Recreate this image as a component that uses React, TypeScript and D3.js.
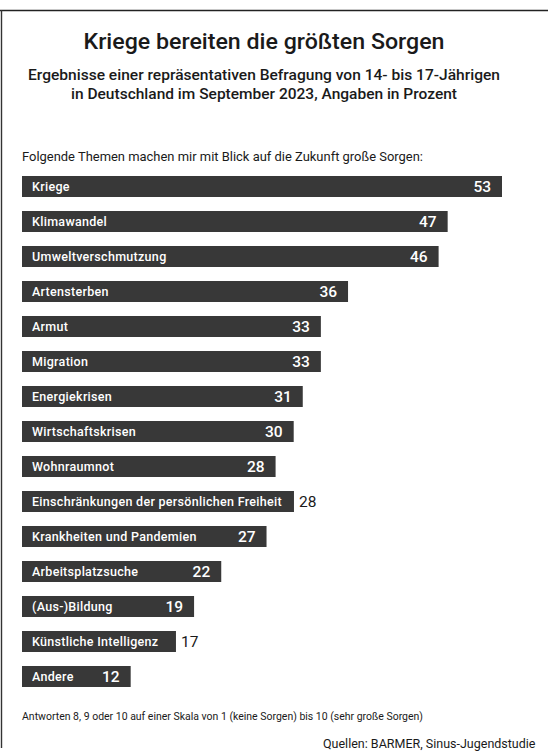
import * as d3 from "d3";
import { useRef, useEffect } from "react";

const topics = [
  "Kriege",
  "Klimawandel",
  "Umweltverschmutzung",
  "Artensterben",
  "Armut",
  "Migration",
  "Energiekrisen",
  "Wirtschaftskrisen",
  "Wohnraumnot",
  "Einschränkungen der persönlichen Freiheit",
  "Krankheiten und Pandemien",
  "Arbeitsplatzsuche",
  "(Aus-)Bildung",
  "Künstliche Intelligenz",
  "Andere",
];
const percents = [53, 47, 46, 36, 33, 33, 31, 30, 28, 28, 27, 22, 19, 17, 12];

const title = "Kriege bereiten die größten Sorgen";
const subtitleLines = [
  "Ergebnisse einer repräsentativen Befragung von 14- bis 17-Jährigen",
  "in Deutschland im September 2023, Angaben in Prozent",
];
const question = "Folgende Themen machen mir mit Blick auf die Zukunft große Sorgen:";
const footnote = "Antworten 8, 9 oder 10 auf einer Skala von 1 (keine Sorgen) bis 10 (sehr große Sorgen)";
const source = "Quellen: BARMER, Sinus-Jugendstudie";

export default function App() {
  const ref = useRef<SVGSVGElement>(null);

  useEffect(() => {
    const width = 548;
    const height = 752;
    const font = "Roboto, 'Noto Sans', sans-serif";
    const barColor = "#383838";

    const svg = d3.select(ref.current);
    svg.selectAll("*").remove();
    svg.attr("width", width).attr("height", height);

    svg.append("rect").attr("width", width).attr("height", height).attr("fill", "#fff");

    // frame
    svg.append("line")
      .attr("x1", 0).attr("x2", width).attr("y1", 10.5).attr("y2", 10.5)
      .attr("stroke", "#222").attr("stroke-width", 1.6);
    svg.append("line")
      .attr("x1", 1.5).attr("x2", 1.5).attr("y1", 10).attr("y2", 748)
      .attr("stroke", "#333").attr("stroke-width", 1.4);

    // headings
    svg.append("text")
      .attr("x", 264).attr("y", 49)
      .attr("text-anchor", "middle")
      .attr("textLength", 361).attr("lengthAdjust", "spacingAndGlyphs")
      .style("font-family", font).style("font-weight", 500).style("font-size", "22px")
      .attr("fill", "#1a1a1a")
      .text(title);

    svg.selectAll("text.sub")
      .data(subtitleLines)
      .enter()
      .append("text")
      .attr("class", "sub")
      .attr("x", 264)
      .attr("y", (d, i) => 80 + i * 19)
      .attr("text-anchor", "middle")
      .attr("textLength", (d, i) => (i === 0 ? 472 : 386))
      .attr("lengthAdjust", "spacingAndGlyphs")
      .style("font-family", font).style("font-weight", 500).style("font-size", "15px")
      .attr("fill", "#1a1a1a")
      .text(d => d);

    svg.append("text")
      .attr("x", 22).attr("y", 161)
      .attr("textLength", 401).attr("lengthAdjust", "spacingAndGlyphs")
      .style("font-family", font).style("font-size", "13px")
      .attr("fill", "#1a1a1a")
      .text(question);

    // bars
    const x = d3.scaleLinear().domain([0, 53]).range([0, 480]);
    const y = d3.scaleBand().domain(topics).range([176, 176 + 35 * 14 + 21]).paddingInner(0.4).paddingOuter(0);
    const left = 22;

    const data = topics.map((t, i) => ({ topic: t, value: percents[i] }));

    const rows = svg.selectAll("g.row")
      .data(data)
      .enter()
      .append("g")
      .attr("class", "row")
      .attr("transform", d => `translate(${left},${y(d.topic)})`);

    const bh = y.bandwidth();

    const bars = rows.append("rect")
      .attr("height", bh)
      .attr("fill", barColor);

    const labels = rows.append("text")
      .attr("x", 10)
      .attr("y", bh / 2 + 4.5)
      .attr("fill", "#fff")
      .style("font-family", font).style("font-weight", 500).style("font-size", "12.5px")
      .style("letter-spacing", "0.3px")
      .text(d => d.topic);

    const values = rows.append("text")
      .attr("y", bh / 2 + 5.5)
      .style("font-family", font).style("font-size", "15.5px")
      .text(d => d.value);

    labels.each(function (d: any) {
      const lw = (this as SVGTextElement).getComputedTextLength();
      const vw = 20;
      const w = x(d.value);
      d.inside = w >= 10 + lw + 14 + vw;
      d.w = d.inside ? w : Math.max(w, 10 + lw + 12);
    });

    bars.attr("width", (d: any) => d.w);
    values
      .attr("x", (d: any) => (d.inside ? d.w - 11 : d.w + 5))
      .attr("text-anchor", (d: any) => (d.inside ? "end" : "start"))
      .attr("fill", (d: any) => (d.inside ? "#fff" : "#1a1a1a"))
      .style("font-weight", (d: any) => (d.inside ? 500 : 400));

    // notes
    svg.append("text")
      .attr("x", 22).attr("y", 720)
      .attr("textLength", 401).attr("lengthAdjust", "spacingAndGlyphs")
      .style("font-family", font).style("font-size", "10.5px")
      .attr("fill", "#1a1a1a")
      .text(footnote);

    svg.append("text")
      .attr("x", 323).attr("y", 748)
      .style("font-family", font).style("font-size", "12.5px")
      .attr("fill", "#1a1a1a")
      .text(source);
  }, []);

  return <svg ref={ref} style={{ position: "absolute", left: 0, top: 0, display: "block" }}></svg>;
}
